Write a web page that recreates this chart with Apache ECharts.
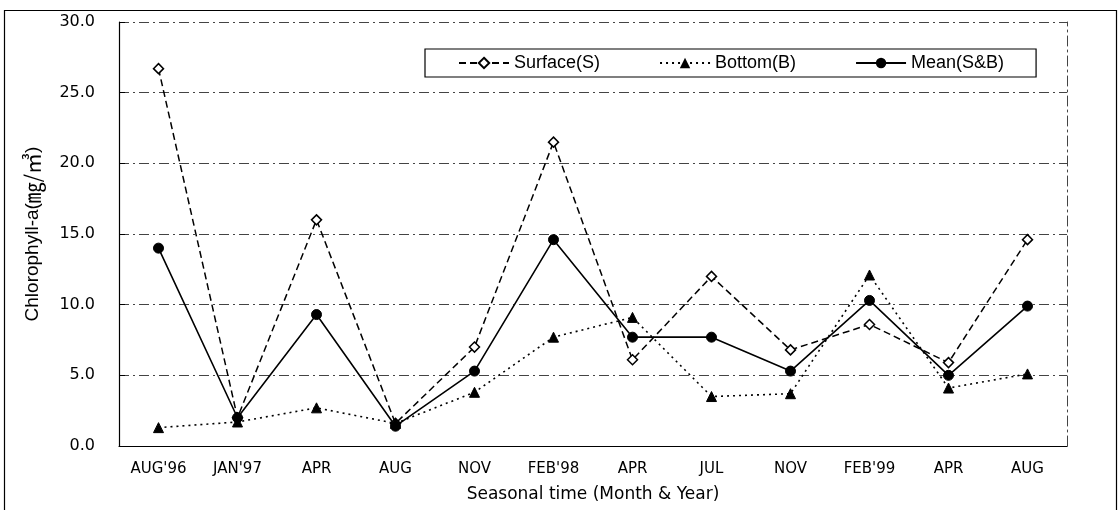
<!DOCTYPE html>
<html>
<head>
<meta charset="utf-8">
<script src="https://cdn.jsdelivr.net/npm/echarts@6/dist/echarts.min.js"></script>
<style>html,body{margin:0;padding:0;background:#fff}#c{width:1120px;height:510px}</style>
</head>
<body>
<div id="c"></div>
<script>
const categories = ["AUG'96", "JAN'97", "APR", "AUG", "NOV", "FEB'98", "APR", "JUL", "NOV", "FEB'99", "APR", "AUG"];
const surface = [26.7, 2.0, 16.0, 1.6, 7.0, 21.5, 6.1, 12.0, 6.8, 8.6, 5.9, 14.6];
const bottom = [1.3, 1.7, 2.7, 1.6, 3.8, 7.7, 9.1, 3.5, 3.7, 12.1, 4.1, 5.1];
const mean = [14.0, 2.0, 9.3, 1.4, 5.3, 14.6, 7.7, 7.7, 5.3, 10.3, 5.0, 9.9];
const yTicks = [0, 5, 10, 15, 20, 25, 30];

const chart = echarts.init(document.getElementById('c'));
const font = '"DejaVu Sans", "Liberation Sans", sans-serif';
const legendFont = '"Liberation Sans", Arial, sans-serif';
chart.setOption({
  animation: false,
  backgroundColor: '#fff',
  graphic: [{
    type: 'rect', shape: { x: 4.5, y: 10.5, width: 1112, height: 505 },
    style: { fill: 'none', stroke: '#000', lineWidth: 1.2 }
  }],
  grid: { left: 119, right: 53, top: 22, bottom: 64 },
  legend: {
    left: 425, top: 49,
    itemGap: 59, itemWidth: 50, itemHeight: 13,
    padding: [5, 32, 5, 33],
    borderColor: '#000', borderWidth: 1.2,
    textStyle: { fontFamily: legendFont, fontSize: 18, color: '#000' },
    data: ['Surface(S)', 'Bottom(B)', 'Mean(S&B)']
  },
  xAxis: {
    type: 'category', data: categories, boundaryGap: true,
    axisLine: { lineStyle: { color: '#000', width: 1.2 } },
    axisTick: { inside: true, length: 6, lineStyle: { color: '#000' } },
    axisLabel: { color: '#000', fontFamily: font, fontSize: 15, margin: 16 },
    name: 'Seasonal time (Month & Year)', nameLocation: 'middle', nameGap: 40,
    nameTextStyle: { color: '#000', fontFamily: font, fontSize: 17 }
  },
  yAxis: [{
    type: 'value', min: 0, max: 30, interval: 5,
    axisLine: { show: true, lineStyle: { color: '#000', width: 1.2 } },
    axisTick: { show: true, inside: true, length: 6, lineStyle: { color: '#000' } },
    axisLabel: {
      color: '#000', fontFamily: font, fontSize: 16, margin: 24,
      formatter: v => yTicks.includes(v) ? v.toFixed(1) : ''
    },
    splitLine: { show: true, lineStyle: { color: '#444', width: 1, type: [10, 4, 2, 4] } },
    name: '{a|Chlorophyll-a(}{b|㎎/㎥}{a|)}', nameLocation: 'middle', nameGap: 76,
    nameTextStyle: {
      rich: {
        a: { fontFamily: '"Liberation Sans", Arial, sans-serif', fontSize: 19, color: '#000' },
        b: { fontFamily: '"Noto Sans CJK KR", sans-serif', fontSize: 21, color: '#000' }
      }
    }
  }, {
    type: 'value', min: 0, max: 30, interval: 5, position: 'right',
    axisLine: { show: true, lineStyle: { color: '#444', width: 1, type: [10, 4, 2, 4] } },
    axisTick: { show: false }, axisLabel: { show: false }, splitLine: { show: false }
  }],
  series: [{
    name: 'Surface(S)', type: 'line', data: surface,
    symbol: 'diamond', symbolSize: 10,
    lineStyle: { color: '#000', width: 1.5, type: [7, 4] },
    itemStyle: { color: '#fff', borderColor: '#000', borderWidth: 1.5 }
  }, {
    name: 'Bottom(B)', type: 'line', data: bottom,
    symbol: 'triangle', symbolSize: 10,
    lineStyle: { color: '#000', width: 1.6, type: [2, 4] },
    itemStyle: { color: '#000', borderColor: '#000' }
  }, {
    name: 'Mean(S&B)', type: 'line', data: mean,
    symbol: 'circle', symbolSize: 10,
    lineStyle: { color: '#000', width: 1.6 },
    itemStyle: { color: '#000', borderColor: '#000' }
  }]
});
</script>
</body>
</html>
